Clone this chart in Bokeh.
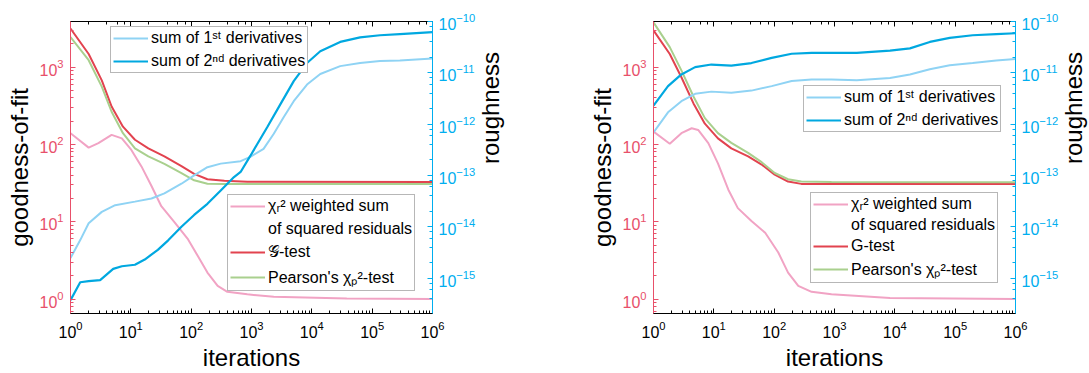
import math
from bokeh.plotting import figure
from bokeh.models import Range1d, LogAxis, LogScale, Legend, LegendItem, CustomJSTickFormatter, Label
from bokeh.layouts import row
from bokeh.embed import file_html
from bokeh.resources import INLINE

# ---------------- data ----------------
# left panel
L_gtest_x = [1, 2, 3.3, 4.8, 7.4, 11.7, 19.5, 36, 69, 112, 186, 355, 851, 1e6]
L_gtest_y = [3160, 1480, 676, 309, 170, 115, 89, 70, 52.5, 41.7, 35.5, 33.9, 33, 32.6]
L_pearson_x = [1, 2, 3.3, 4.8, 7.4, 11.7, 19.5, 36, 69, 112, 186, 355, 1e6]
L_pearson_y = [2450, 1230, 560, 265, 140, 89, 70, 56, 42.6, 34.4, 31, 30.9, 30.9]
L_chi_x = [1, 2, 2.9, 4.8, 7.1, 10.2, 15, 22, 32, 54, 89, 129, 186, 275, 398, 851, 2340, 38000, 1e6]
L_chi_y = [140, 91, 104, 133, 120, 85, 52, 29, 15.9, 9.7, 5.9, 3.6, 2.2, 1.48, 1.24, 1.15, 1.07, 1.02, 1.0]
L_d1_x = [1, 1.45, 2, 3.3, 5.5, 11.7, 22, 36, 69, 112, 186, 309, 660, 955, 1585, 2340, 3390, 5010,
          8320, 13800, 29500, 63100, 135000, 288000, 1e6]
L_d1_y = [2.45e-15, 5.5e-15, 1.17e-14, 1.95e-14, 2.63e-14, 3.09e-14, 3.55e-14, 4.47e-14, 6.9e-14, 1.0e-13,
          1.45e-13, 1.7e-13, 1.9e-13, 2.3e-13, 3.3e-13, 6.5e-13, 1.35e-12, 2.8e-12, 5.9e-12, 9.5e-12,
          1.35e-11, 1.55e-11, 1.7e-11, 1.74e-11, 1.9e-11]
L_d2_x = [1, 1.45, 2, 3.1, 5.1, 7.1, 11.7, 17, 28, 42, 69, 112, 186, 309, 513, 660, 955, 1820, 3020,
          5010, 8320, 13800, 29500, 63100, 135000, 288000, 1e6]
L_d2_y = [3.7e-16, 8.3e-16, 8.7e-16, 9.1e-16, 1.51e-15, 1.7e-15, 1.82e-15, 2.3e-15, 3.55e-15, 5.5e-15,
          1.0e-14, 1.7e-14, 2.8e-14, 5.1e-14, 9.3e-14, 1.17e-13, 2.4e-13, 8.7e-13, 2.45e-12, 6.9e-12,
          1.55e-11, 2.63e-11, 4.0e-11, 4.9e-11, 5.4e-11, 5.7e-11, 6.2e-11]

# right panel
R_test_x = [1, 1.86, 2.9, 4.6, 7.1, 11.7, 19.5, 37, 62, 102, 170, 282, 891, 1e6]
R_gtest_y = [2990, 1480, 740, 340, 186, 120, 89, 70, 55, 40.7, 33.1, 30.9, 30.9, 30.9]
R_pearson_y = [3800, 1820, 910, 417, 219, 140, 105, 78, 59, 42.7, 35.5, 33.1, 32.7, 32.4]
R_chi_x = [1, 1.86, 2.9, 4.3, 5.5, 8.1, 11.7, 17.4, 25, 42, 71, 117, 170, 251, 417, 891, 8320, 1e6]
R_chi_y = [147, 102, 140, 162, 154, 104, 57, 26, 15, 10.2, 7.2, 4.0, 2.2, 1.48, 1.24, 1.15, 1.03, 1.0]
R_d_x = [1, 1.74, 2.9, 4.9, 9.1, 19.5, 42, 91, 195, 417, 891, 2340, 8320, 17800, 38000, 81300,
         195000, 479000, 1e6]
R_d1_y = [6.9e-13, 1.7e-12, 2.8e-12, 3.9e-12, 4.3e-12, 4.1e-12, 4.5e-12, 5.5e-12, 6.9e-12, 7.4e-12,
          7.4e-12, 7.2e-12, 7.9e-12, 9.3e-12, 1.17e-11, 1.41e-11, 1.55e-11, 1.74e-11, 1.86e-11]
R_d2_y = [2.3e-12, 5.5e-12, 9.3e-12, 1.29e-11, 1.45e-11, 1.38e-11, 1.55e-11, 1.95e-11, 2.35e-11, 2.45e-11,
          2.45e-11, 2.45e-11, 2.7e-11, 3.0e-11, 4.0e-11, 4.8e-11, 5.4e-11, 5.7e-11, 5.9e-11]

X_LABEL = "iterations"
Y_LABEL = "goodness-of-fit"
Y2_LABEL = "roughness"
LBL_D1 = "sum of 1ˢᵗ derivatives"
LBL_D2 = "sum of 2ⁿᵈ derivatives"
LBL_CHI1 = "χᵣ² weighted sum"
LBL_CHI2 = "of squared residuals"
LBL_P = "Pearson's χₚ²-test"

# ---------------- style ----------------
FONT = "Liberation Sans"
AX_RED = "#e8506a"
AX_CYAN = "#00aeef"
C_D1 = "#8fd3f4"
C_D2 = "#00a8e0"
C_CHI = "#f1a3c4"
C_G = "#e2434f"
C_P = "#a9d08e"
H = 373


def style_axis(ax, color, tick_label_color):
    ax.axis_line_color = color
    ax.major_tick_line_color = color
    ax.minor_tick_line_color = color
    ax.major_tick_in = 5
    ax.major_tick_out = 0
    ax.minor_tick_in = 3
    ax.minor_tick_out = 0
    ax.major_label_text_font = FONT
    ax.major_label_text_font_size = "16px"
    ax.major_label_text_color = tick_label_color
    ax.major_label_standoff = 7
    ax.axis_label_text_font = FONT
    ax.axis_label_text_font_size = "24px"
    ax.axis_label_text_font_style = "normal"
    ax.axis_label_text_color = "black"
    ax.axis_label_standoff = 3


def make_panel(width, border_left, border_right, chi_x, chi_y, g_x, g_y, g_label, p_x, p_y,
               d1_x, d1_y, d2_x, d2_y, leg1_loc, leg2_loc, leg2_spacing):
    p = figure(width=width, height=H, x_axis_type="log", y_axis_type="log",
               x_range=Range1d(1, 1e6), y_range=Range1d(0.65, 3900),
               output_backend="svg", toolbar_location=None,
               min_border_left=border_left, min_border_right=border_right,
               min_border_top=21, min_border_bottom=59)
    p.outline_line_color = None
    p.xgrid.visible = False
    p.ygrid.visible = False
    p.extra_y_ranges = {"r": Range1d(2.04e-16, 1.0001e-10)}
    p.extra_y_scales = {"r": LogScale()}

    style_axis(p.xaxis[0], "black", "black")
    p.xaxis[0].axis_label = X_LABEL
    style_axis(p.yaxis[0], AX_RED, AX_RED)
    p.yaxis[0].axis_label = Y_LABEL

    ax_r = LogAxis(y_range_name="r")
    style_axis(ax_r, AX_CYAN, AX_CYAN)
    ax_r.major_label_standoff = 6
    p.add_layout(ax_r, "right")

    top = LogAxis(formatter=CustomJSTickFormatter(code="return ''"))
    style_axis(top, "black", "black")
    top.major_label_standoff = 0
    p.add_layout(top, "above")

    r_chi = p.line(chi_x, chi_y, line_color=C_CHI, line_width=2)
    r_dummy = p.line([], [], line_color="white", line_alpha=0, line_width=2)
    r_g = p.line(g_x, g_y, line_color=C_G, line_width=2)
    r_p = p.line(p_x, p_y, line_color=C_P, line_width=2)
    r_d1 = p.line(d1_x, d1_y, line_color=C_D1, line_width=2, y_range_name="r")
    r_d2 = p.line(d2_x, d2_y, line_color=C_D2, line_width=2.2, y_range_name="r")

    def legend(items, loc, spacing):
        lg = Legend(items=items, location=loc)
        lg.border_line_color = "#707070"
        lg.border_line_width = 1
        lg.background_fill_color = "white"
        lg.background_fill_alpha = 1
        lg.label_text_font = FONT
        lg.label_text_font_size = "16px"
        lg.label_text_color = "black"
        lg.glyph_width = 35
        lg.glyph_height = 18
        lg.label_height = 18
        lg.label_standoff = 3
        lg.padding = 2
        lg.spacing = spacing
        lg.margin = 0
        return lg

    p.add_layout(legend([LegendItem(label=LBL_D1, renderers=[r_d1]),
                         LegendItem(label=LBL_D2, renderers=[r_d2])], leg1_loc, 5))
    p.add_layout(legend([LegendItem(label=LBL_CHI1, renderers=[r_chi]),
                         LegendItem(label=LBL_CHI2, renderers=[r_dummy]),
                         LegendItem(label=g_label, renderers=[r_g]),
                         LegendItem(label=LBL_P, renderers=[r_p])], leg2_loc, leg2_spacing))
    return p


def title_strip(width, x_center):
    """Narrow strip holding the right-axis title, reading bottom-to-top."""
    f = figure(width=width, height=H, output_backend="svg", toolbar_location=None,
               x_axis_location=None, y_axis_location=None, min_border=0,
               min_border_left=0, min_border_right=0, min_border_top=0, min_border_bottom=0,
               x_range=Range1d(0, 1), y_range=Range1d(0, 1))
    f.outline_line_color = None
    f.grid.visible = False
    f.add_layout(Label(x=x_center, y=H - 167.5, x_units="screen", y_units="screen", text=Y2_LABEL,
                       angle=math.pi / 2, text_align="center", text_baseline="middle",
                       text_font=FONT, text_font_size="24px", text_color="black"))
    return f


p1 = make_panel(478, 70, 45, L_chi_x, L_chi_y, L_gtest_x, L_gtest_y, "𝒢-test", L_pearson_x, L_pearson_y,
                L_d1_x, L_d1_y, L_d2_x, L_d2_y, (40, 240), (157, 22), 5)
s1 = title_strip(30, 12)
p2 = make_panel(553, 145, 45, R_chi_x, R_chi_y, R_test_x, R_gtest_y, "G-test", R_test_x, R_pearson_y,
                R_d_x, R_d1_y, R_d_x, R_d2_y, (150, 181), (157, 30), 3)
s2 = title_strip(28, 11.5)

layout = row(p1, s1, p2, s2)
open("out.html", "w").write(file_html(layout, INLINE))
